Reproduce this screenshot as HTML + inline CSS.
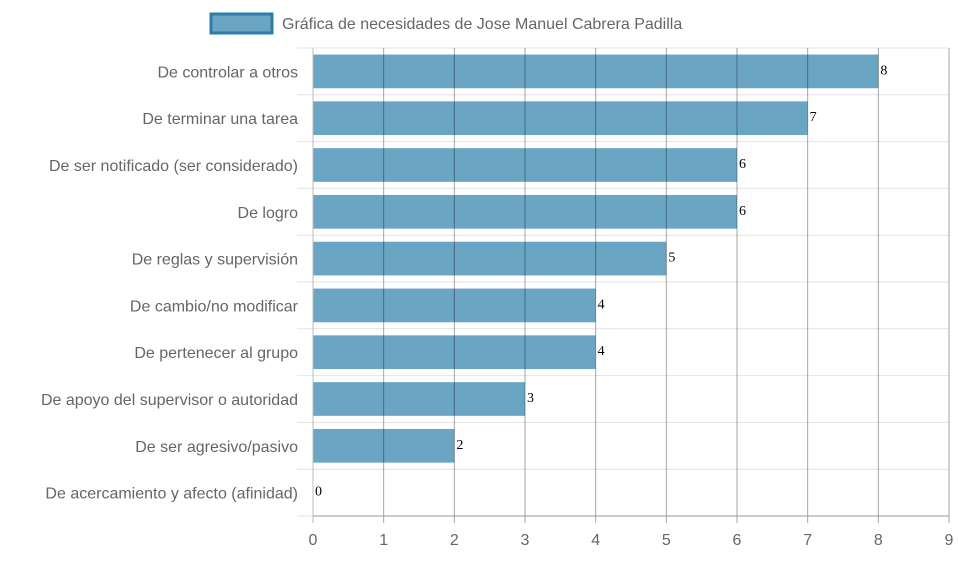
<!DOCTYPE html>
<html><head><meta charset="utf-8"><style>
body{margin:0;background:#fff;width:958px;height:558px;overflow:hidden}
svg{font-family:"Liberation Sans",sans-serif}
</style></head><body>
<svg id="c" width="958" height="558">
<rect x="211" y="14" width="61" height="19" fill="#6ba5c4" stroke="#2e7ca8" stroke-width="3"/>
<text x="282" y="29" font-size="16" fill="#666">Gráfica de necesidades de Jose Manuel Cabrera Padilla</text>
<g id="g"></g>
</svg>
<script>
const categories=["De controlar a otros","De terminar una tarea","De ser notificado (ser considerado)","De logro","De reglas y supervisión","De cambio/no modificar","De pertenecer al grupo","De apoyo del supervisor o autoridad","De ser agresivo/pasivo","De acercamiento y afecto (afinidad)"];
const values=[8,7,6,6,5,4,4,3,2,0];
const ticks=[0,1,2,3,4,5,6,7,8,9];
const x0=313,x1=949,yTop=48,yBot=516,xMax=9;
const xs=v=>x0+(x1-x0)*v/xMax;
const band=(yBot-yTop)/categories.length;
const yc=i=>yTop+band*(i+0.5);
const g=document.getElementById('g');const NS='http://www.w3.org/2000/svg';
function mk(t,a,txt){const e=document.createElementNS(NS,t);for(const k in a)e.setAttribute(k,a[k]);if(txt!=null)e.textContent=txt;g.appendChild(e);return e;}
for(let i=0;i<=categories.length;i++){const y=yTop+band*i;
const l=mk('line',{x1:297,x2:x1,y1:y,y2:y,stroke:'#e4e4e4','stroke-width':1});

}
categories.forEach((c,i)=>{const h=band*0.72;
const r=mk('rect',{x:x0,y:yc(i)-h/2,width:xs(values[i])-x0,height:h,fill:'#6ba5c4'});


const t=mk('text',{x:298,y:yc(i)+6,'text-anchor':'end','font-size':16,fill:'#666'},c);


const v=mk('text',{x:xs(values[i])+2,y:yc(i)+3,'font-size':14,fill:'#000','font-family':'Liberation Serif, serif'},values[i]);

});
ticks.forEach(t=>{const x=xs(t);
const l=mk('line',{x1:x,x2:x,y1:yTop,y2:yBot+7,stroke:t===0?'#bbb':'rgba(0,0,0,0.35)','stroke-width':1});


const tx=mk('text',{x:x,y:545,'text-anchor':'middle','font-size':16,fill:'#666'},t);

});
const ax=mk('line',{x1:x0,x2:x1,y1:yBot,y2:yBot,stroke:'#999','stroke-width':1});


</script>
</body></html>
